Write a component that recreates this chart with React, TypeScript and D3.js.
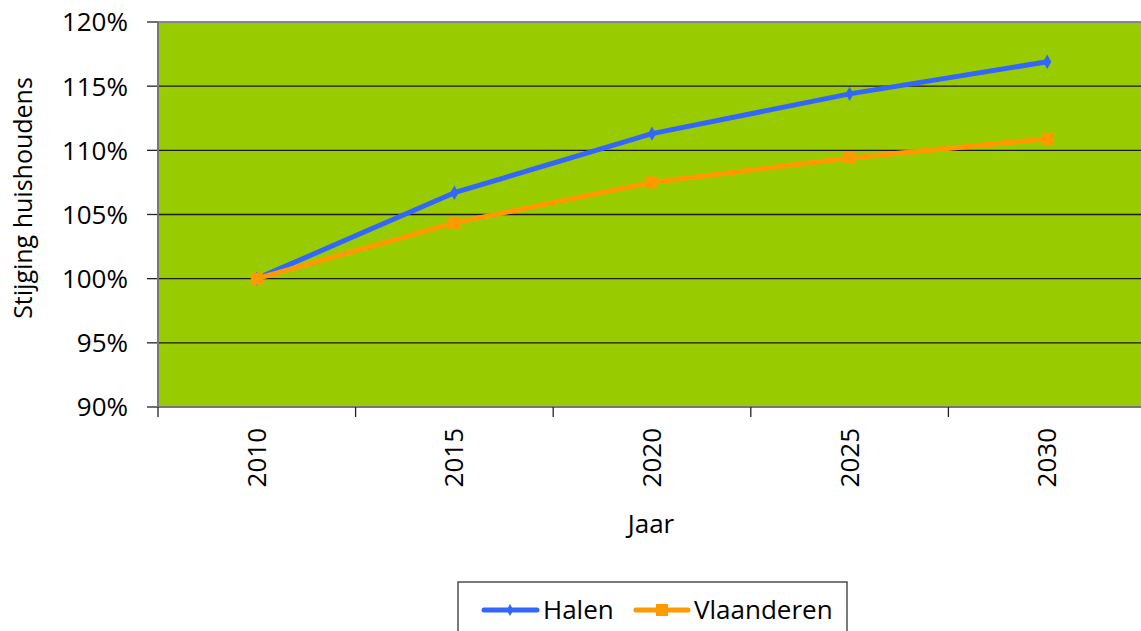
import React from "react";
import * as d3 from "d3";

const years = ["2010", "2015", "2020", "2025", "2030"];
const halen = [100, 106.7, 111.3, 114.4, 116.9];
const vlaanderen = [100, 104.35, 107.5, 109.4, 110.9];
const yTicks = [90, 95, 100, 105, 110, 115, 120];

const W = 1141;
const H = 631;
const plot = { left: 158, top: 22, right: 1146, bottom: 407 };
const FONT = "'Open Sans', sans-serif";

export default function App() {
  const x = d3.scaleBand<string>().domain(years).range([plot.left, plot.right]);
  const y = d3.scaleLinear().domain([90, 120]).range([plot.bottom, plot.top]);
  const cx = (d: string) => (x(d) as number) + x.bandwidth() / 2;
  const line = d3
    .line<number>()
    .x((_, i) => cx(years[i]))
    .y((v) => y(v));

  const diamond = d3.symbol().type(d3.symbolDiamond).size(60)();

  return (
    <svg
      width={W}
      height={H}
      style={{ position: "absolute", left: 0, top: 0, background: "#fff" }}
      fontFamily={FONT}
    >
      <rect
        x={plot.left}
        y={plot.top}
        width={plot.right - plot.left}
        height={plot.bottom - plot.top}
        fill="#99CC00"
      />
      {yTicks.map((t) => (
        <g key={t}>
          {t !== 90 && t !== 120 && (
            <line x1={plot.left} x2={plot.right} y1={y(t)} y2={y(t)} stroke="#1a1a1a" strokeWidth={1.3} />
          )}
          <line x1={plot.left - 11} x2={plot.left} y1={y(t)} y2={y(t)} stroke="#222" strokeWidth={1.3} />
          <text x={128} y={y(t)} dy="0.36em" textAnchor="end" fontSize={26} fill="#000">
            {t}%
          </text>
        </g>
      ))}
      <line x1={plot.left} x2={plot.right} y1={plot.top} y2={plot.top} stroke="#888" strokeWidth={2} />
      <line x1={plot.left} x2={plot.right} y1={plot.bottom} y2={plot.bottom} stroke="#777" strokeWidth={2} />
      <line x1={plot.left} x2={plot.left} y1={plot.top} y2={plot.bottom} stroke="#777" strokeWidth={2} />
      {years.map((yr) => (
        <line
          key={"t" + yr}
          x1={x(yr) as number}
          x2={x(yr) as number}
          y1={plot.bottom}
          y2={plot.bottom + 10}
          stroke="#222"
          strokeWidth={1.3}
        />
      ))}
      {years.map((yr) => (
        <text
          key={"l" + yr}
          transform={`translate(${cx(yr) + 9},428) rotate(-90)`}
          textAnchor="end"
          fontSize={26}
          fill="#000"
        >
          {yr}
        </text>
      ))}
      <path d={line(halen) || ""} fill="none" stroke="#3366FF" strokeWidth={5} strokeLinejoin="round" />
      {halen.map((v, i) => (
        <path key={"h" + i} d={diamond || ""} transform={`translate(${cx(years[i])},${y(v)})`} fill="#3366FF" />
      ))}
      <path d={line(vlaanderen) || ""} fill="none" stroke="#FF9900" strokeWidth={5} strokeLinejoin="round" />
      {vlaanderen.map((v, i) => (
        <rect key={"v" + i} x={cx(years[i]) - 6} y={y(v) - 6} width={12} height={12} fill="#FF9900" />
      ))}
      <text x={651} y={533} textAnchor="middle" fontSize={26} fill="#000">
        Jaar
      </text>
      <text transform={`translate(32,198) rotate(-90)`} textAnchor="middle" fontSize={25} fill="#000">
        Stijging huishoudens
      </text>
      <rect x={458} y={582} width={389} height={60} fill="#fff" stroke="#333" strokeWidth={1.3} />
      <line x1={484} x2={537} y1={610} y2={610} stroke="#3366FF" strokeWidth={5} strokeLinecap="round" />
      <path d={d3.symbol().type(d3.symbolDiamond).size(40)() || ""} transform="translate(510,610)" fill="#3366FF" />
      <text x={543} y={619} fontSize={26} fill="#000">
        Halen
      </text>
      <line x1={636} x2={688} y1={610} y2={610} stroke="#FF9900" strokeWidth={5} strokeLinecap="round" />
      <rect x={656} y={604} width={12} height={12} fill="#FF9900" />
      <text x={694} y={619} fontSize={26} fill="#000">
        Vlaanderen
      </text>
    </svg>
  );
}
